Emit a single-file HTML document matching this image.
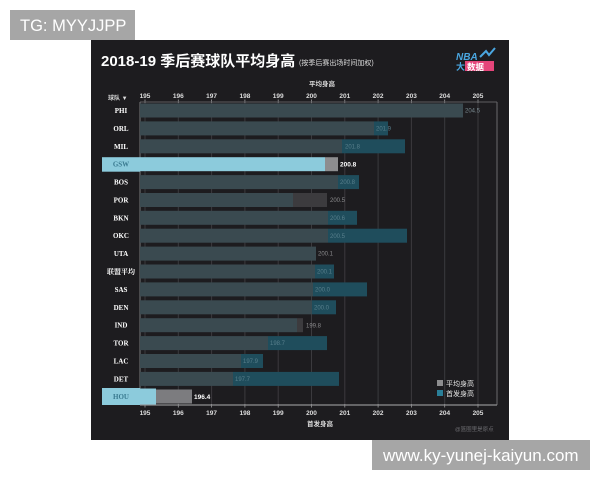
<!DOCTYPE html>
<html><head><meta charset="utf-8"><style>
html,body{margin:0;padding:0;background:#fff;}
svg{display:block;}
</style></head><body>
<svg width="600" height="480" viewBox="0 0 600 480" xmlns="http://www.w3.org/2000/svg">
<rect x="0" y="0" width="600" height="480" fill="#ffffff"/>
<!-- top label -->
<rect x="10" y="10" width="125" height="30" fill="#a6a6a6"/>
<text x="20" y="31" font-family="Liberation Sans, sans-serif" font-size="16.5" fill="#ffffff">TG: MYYJJPP</text>
<!-- dark panel -->
<rect x="91" y="40" width="418" height="400" fill="#1d1c1f"/>
<text x="101" y="66" font-family="Liberation Sans, 'Noto Sans CJK SC', sans-serif" font-size="15" font-weight="bold" fill="#ffffff">2018-19 季后赛球队平均身高</text>
<text x="299" y="65" font-family="Liberation Sans, 'Noto Sans CJK SC', sans-serif" font-size="7" fill="#dddddd">(按季后赛出场时间加权)</text>
<!-- logo -->
<text x="456" y="60" font-family="Liberation Sans, sans-serif" font-size="10" font-weight="bold" font-style="italic" fill="#4aa6e0">NBA</text>
<path d="M480 57 L486 51 L489 55 L495 48" stroke="#4aa6e0" stroke-width="2" fill="none"/>
<text x="456" y="70" font-family="Liberation Sans, 'Noto Sans CJK SC', sans-serif" font-size="9" font-weight="bold" fill="#4aa6e0">大</text>
<rect x="465" y="61" width="29" height="10" fill="#e5457a"/>
<text x="467" y="70" font-family="Liberation Sans, 'Noto Sans CJK SC', sans-serif" font-size="8.5" font-weight="bold" fill="#ffffff">数据</text>
<!-- axis titles -->
<text x="322" y="86" text-anchor="middle" font-family="Liberation Sans, 'Noto Sans CJK SC', sans-serif" font-size="6.5" font-weight="bold" fill="#dddddd">平均身高</text>
<text x="307" y="426" font-family="Liberation Sans, 'Noto Sans CJK SC', sans-serif" font-size="6.5" font-weight="bold" fill="#dddddd">首发身高</text>
<text x="108" y="100" font-family="Liberation Sans, 'Noto Sans CJK SC', sans-serif" font-size="6" font-weight="bold" fill="#dddddd">球队 ▼</text>
<!-- gridlines -->
<g stroke="#3b3a3e" stroke-width="1">
<line x1="145" y1="102" x2="145" y2="405"/>
<line x1="178.3" y1="102" x2="178.3" y2="405"/>
<line x1="211.6" y1="102" x2="211.6" y2="405"/>
<line x1="244.9" y1="102" x2="244.9" y2="405"/>
<line x1="278.2" y1="102" x2="278.2" y2="405"/>
<line x1="311.5" y1="102" x2="311.5" y2="405"/>
<line x1="344.8" y1="102" x2="344.8" y2="405"/>
<line x1="378.1" y1="102" x2="378.1" y2="405"/>
<line x1="411.4" y1="102" x2="411.4" y2="405"/>
<line x1="444.7" y1="102" x2="444.7" y2="405"/>
<line x1="478" y1="102" x2="478" y2="405"/>
</g>
<!-- tick marks -->
<g stroke="#9a9a9c" stroke-width="0.8">
<line x1="145" y1="99.5" x2="145" y2="103"/><line x1="178.3" y1="99.5" x2="178.3" y2="103"/><line x1="211.6" y1="99.5" x2="211.6" y2="103"/><line x1="244.9" y1="99.5" x2="244.9" y2="103"/><line x1="278.2" y1="99.5" x2="278.2" y2="103"/><line x1="311.5" y1="99.5" x2="311.5" y2="103"/><line x1="344.8" y1="99.5" x2="344.8" y2="103"/><line x1="378.1" y1="99.5" x2="378.1" y2="103"/><line x1="411.4" y1="99.5" x2="411.4" y2="103"/><line x1="444.7" y1="99.5" x2="444.7" y2="103"/><line x1="478" y1="99.5" x2="478" y2="103"/>
<line x1="145" y1="404" x2="145" y2="407.5"/><line x1="178.3" y1="404" x2="178.3" y2="407.5"/><line x1="211.6" y1="404" x2="211.6" y2="407.5"/><line x1="244.9" y1="404" x2="244.9" y2="407.5"/><line x1="278.2" y1="404" x2="278.2" y2="407.5"/><line x1="311.5" y1="404" x2="311.5" y2="407.5"/><line x1="344.8" y1="404" x2="344.8" y2="407.5"/><line x1="378.1" y1="404" x2="378.1" y2="407.5"/><line x1="411.4" y1="404" x2="411.4" y2="407.5"/><line x1="444.7" y1="404" x2="444.7" y2="407.5"/><line x1="478" y1="404" x2="478" y2="407.5"/>
</g>
<!-- tick labels -->
<g font-family="Liberation Sans, sans-serif" font-size="6.5" font-weight="bold" fill="#dddddd" text-anchor="middle">
<text x="145" y="98">195</text><text x="178.3" y="98">196</text><text x="211.6" y="98">197</text><text x="244.9" y="98">198</text><text x="278.2" y="98">199</text><text x="311.5" y="98">200</text><text x="344.8" y="98">201</text><text x="378.1" y="98">202</text><text x="411.4" y="98">203</text><text x="444.7" y="98">204</text><text x="478" y="98">205</text>
<text x="145" y="415">195</text><text x="178.3" y="415">196</text><text x="211.6" y="415">197</text><text x="244.9" y="415">198</text><text x="278.2" y="415">199</text><text x="311.5" y="415">200</text><text x="344.8" y="415">201</text><text x="378.1" y="415">202</text><text x="411.4" y="415">203</text><text x="444.7" y="415">204</text><text x="478" y="415">205</text>
</g>
<!-- frame -->
<line x1="140" y1="102" x2="497" y2="102" stroke="#5e5e62" stroke-width="1"/>
<line x1="140" y1="102" x2="140" y2="405" stroke="#77777a" stroke-width="1"/>
<line x1="497" y1="102" x2="497" y2="405" stroke="#6a6a6e" stroke-width="1"/>
<line x1="140" y1="405" x2="497" y2="405" stroke="#8e8e90" stroke-width="1.2"/>

<g>
<!-- PHI 110.5 -->
<rect x="140" y="103.5" width="323" height="14" fill="#3a4a50"/>
<!-- ORL -->
<rect x="140" y="121.4" width="234" height="14" fill="#3a4a50"/>
<rect x="374" y="121.4" width="14" height="14" fill="#1f4d5c"/>
<!-- MIL -->
<rect x="140" y="139.3" width="202" height="14" fill="#3a4a50"/>
<rect x="342" y="139.3" width="63" height="14" fill="#1f4d5c"/>
<!-- GSW -->
<rect x="102" y="157.2" width="38" height="14.5" fill="#8ccbdc"/>
<rect x="140" y="157.2" width="185" height="14" fill="#8ccbdc"/>
<rect x="325" y="157.2" width="13" height="14" fill="#8d8d8f"/>
<!-- BOS -->
<rect x="140" y="175.1" width="198" height="14" fill="#3a4a50"/>
<rect x="338" y="175.1" width="21" height="14" fill="#1f4d5c"/>
<!-- POR -->
<rect x="140" y="193" width="153" height="14" fill="#3a4a50"/>
<rect x="293" y="193" width="34" height="14" fill="#3c3b3e"/>
<!-- BKN -->
<rect x="140" y="210.8" width="188" height="14" fill="#3a4a50"/>
<rect x="328" y="210.8" width="29" height="14" fill="#1f4d5c"/>
<!-- OKC -->
<rect x="140" y="228.7" width="188" height="14" fill="#3a4a50"/>
<rect x="328" y="228.7" width="79" height="14" fill="#1f4d5c"/>
<!-- UTA -->
<rect x="140" y="246.6" width="176" height="14" fill="#3a4a50"/>
<!-- 联盟 -->
<rect x="140" y="264.5" width="175" height="14" fill="#3a4a50"/>
<rect x="315" y="264.5" width="19" height="14" fill="#1f4d5c"/>
<!-- SAS -->
<rect x="140" y="282.4" width="173" height="14" fill="#3a4a50"/>
<rect x="313" y="282.4" width="54" height="14" fill="#1f4d5c"/>
<!-- DEN -->
<rect x="140" y="300.3" width="172" height="14" fill="#3a4a50"/>
<rect x="312" y="300.3" width="24" height="14" fill="#1f4d5c"/>
<!-- IND -->
<rect x="140" y="318.2" width="157" height="14" fill="#3a4a50"/>
<rect x="297" y="318.2" width="6" height="14" fill="#3c3b3e"/>
<!-- TOR -->
<rect x="140" y="336.1" width="128" height="14" fill="#3a4a50"/>
<rect x="268" y="336.1" width="59" height="14" fill="#1f4d5c"/>
<!-- LAC -->
<rect x="140" y="354" width="101" height="14" fill="#3a4a50"/>
<rect x="241" y="354" width="22" height="14" fill="#1f4d5c"/>
<!-- DET -->
<rect x="140" y="371.9" width="93" height="14" fill="#3a4a50"/>
<rect x="233" y="371.9" width="106" height="14" fill="#1f4d5c"/>
<!-- HOU -->
<rect x="102" y="388" width="38" height="17" fill="#8ccbdc"/>
<rect x="140" y="388.5" width="16" height="16" fill="#8ccbdc"/>
<rect x="156" y="389.5" width="36" height="14" fill="#7c7c7f"/>
</g>

<!-- value labels -->
<g font-family="Liberation Sans, sans-serif" font-size="6" fill="#587f8c">
<text x="465" y="112.6" fill="#7a8a90">204.5</text>
<text x="376" y="130.5">201.9</text>
<text x="345" y="148.4">201.8</text>
<text x="340" y="184.2">200.8</text>
<text x="330" y="202" fill="#8a8a8c">200.5</text>
<text x="330" y="219.9">200.6</text>
<text x="330" y="237.8">200.5</text>
<text x="318" y="255.7" fill="#8a8a8c">200.1</text>
<text x="317" y="273.6">200.1</text>
<text x="315" y="291.5">200.0</text>
<text x="314" y="309.4">200.0</text>
<text x="306" y="327.3" fill="#8a8a8c">199.8</text>
<text x="270" y="345.2">198.7</text>
<text x="243" y="363.1">197.9</text>
<text x="235" y="381">197.7</text>
</g>
<text x="340" y="166.6" font-family="Liberation Sans, sans-serif" font-size="6.5" font-weight="bold" fill="#ffffff">200.8</text>
<text x="194" y="399" font-family="Liberation Sans, sans-serif" font-size="6.5" font-weight="bold" fill="#ffffff">196.4</text>

<!-- row labels -->
<g font-family="Liberation Serif, 'Noto Serif CJK SC', serif" font-size="7" font-weight="bold" fill="#ffffff" text-anchor="middle">
<text x="121" y="113">PHI</text>
<text x="121" y="130.9">ORL</text>
<text x="121" y="148.8">MIL</text>
<text x="121" y="166.7" fill="#3a7a90">GSW</text>
<text x="121" y="184.6">BOS</text>
<text x="121" y="202.5">POR</text>
<text x="121" y="220.3">BKN</text>
<text x="121" y="238.2">OKC</text>
<text x="121" y="256.1">UTA</text>
<text x="121" y="274">联盟平均</text>
<text x="121" y="291.9">SAS</text>
<text x="121" y="309.8">DEN</text>
<text x="121" y="327.7">IND</text>
<text x="121" y="345.6">TOR</text>
<text x="121" y="363.5">LAC</text>
<text x="121" y="381.4">DET</text>
<text x="121" y="399.2" fill="#3a7a90">HOU</text>
</g>

<!-- legend -->
<rect x="437" y="380" width="6" height="6" fill="#8d8d8f"/>
<text x="446" y="386" font-family="Liberation Sans, 'Noto Sans CJK SC', sans-serif" font-size="7" fill="#e6e6e6">平均身高</text>
<rect x="437" y="390" width="6" height="6" fill="#2a7f98"/>
<text x="446" y="396" font-family="Liberation Sans, 'Noto Sans CJK SC', sans-serif" font-size="7" fill="#e6e6e6">首发身高</text>
<text x="455" y="431" font-family="Liberation Sans, 'Noto Sans CJK SC', sans-serif" font-size="5.5" fill="#6c6c70">@篮圈里是原点</text>

<!-- bottom label -->
<rect x="372" y="440" width="218" height="30" fill="#a6a6a6"/>
<text x="383" y="461" font-family="Liberation Sans, sans-serif" font-size="17" fill="#ffffff">www.ky-yunej-kaiyun.com</text>
</svg>
</body></html>
